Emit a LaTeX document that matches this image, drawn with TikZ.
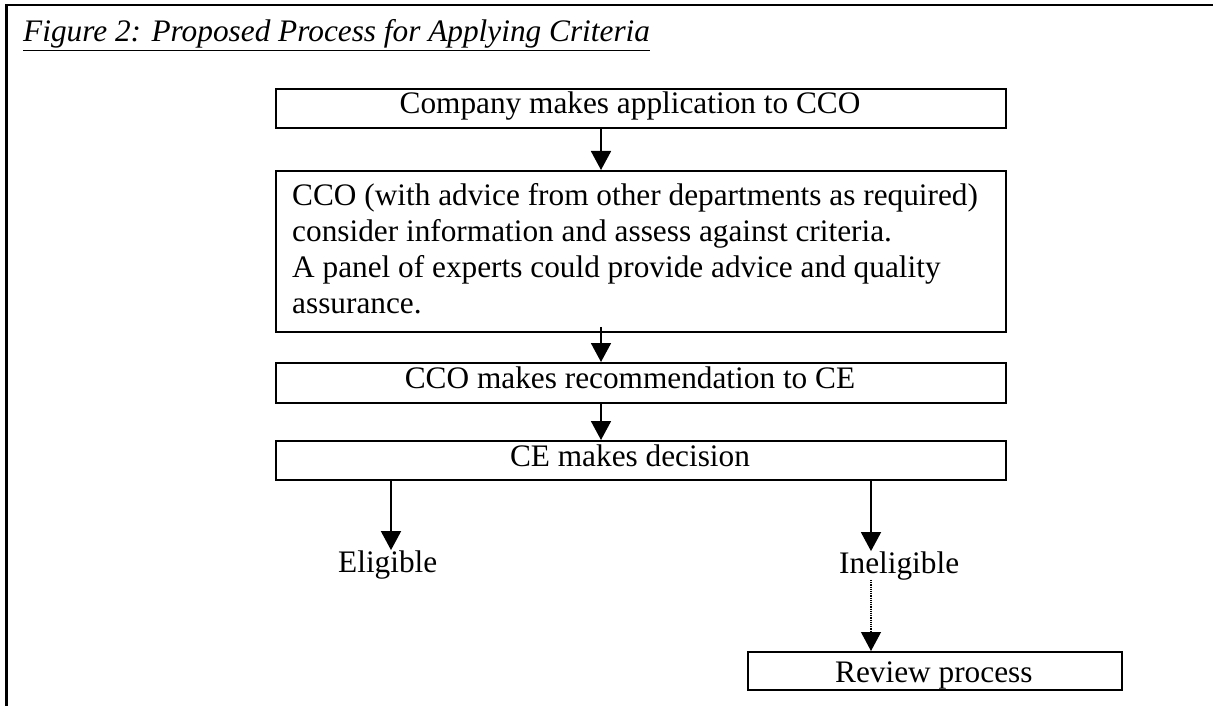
\documentclass[tikz,border=0pt]{standalone}
\usepackage{fontspec}
\setmainfont{Liberation Serif}
\usetikzlibrary{arrows.meta}
\newcommand\bdyfont{\fontsize{31.3}{36}\selectfont}
\newcommand\ttlfont{\fontsize{31.3}{36}\selectfont\itshape}
\begin{document}
\begin{tikzpicture}[x=1pt,y=-1pt,
  box/.style={draw, line width=1.8pt, inner sep=0pt, anchor=north west},
  txt/.style={font=\bdyfont, inner sep=0pt},
  arr/.style={line width=1.8pt, -{Triangle[length=19pt,width=20pt]}},
  darr/.style={line width=1.2pt, densely dotted, -{Triangle[length=19pt,width=20pt]}},
  frame/.style={line width=2.5pt}
]
\useasboundingbox (0,0) rectangle (1213,706);
\draw[frame] (6.5,706) -- (6.5,5) -- (1213,5);

\node[anchor=base west, inner sep=0pt, font=\ttlfont] (title) at (23,42)
  {\underline{Figure 2: Proposed Process for Applying Criteria}};

\node[box, minimum width=730pt, minimum height=39pt] (b1) at (275,88) {};
\node[box, minimum width=730pt, minimum height=161pt] (b2) at (275,170) {};
\node[box, minimum width=730pt, minimum height=40pt] (b3) at (275,362) {};
\node[box, minimum width=730pt, minimum height=39pt] (b4) at (275,440) {};
\node[box, minimum width=374pt, minimum height=38pt] (rv) at (747,651) {};

\node[txt, anchor=base] (t1) at (630,114) {Company makes application to CCO};
\node[txt, anchor=base west] (t2a) at (292,205) {CCO (with advice from other departments as required)};
\node[txt, anchor=base west] (t2b) at (292,241) {consider information and assess against criteria.};
\node[txt, anchor=base west] (t2c) at (292,277) {A panel of experts could provide advice and quality};
\node[txt, anchor=base west] (t2d) at (292,313) {assurance.};
\node[txt, anchor=base] (t3) at (630,388) {CCO makes recommendation to CE};
\node[txt, anchor=base] (t4) at (630,466) {CE makes decision};
\node[txt, anchor=base west] (el) at (338,572) {Eligible};
\node[txt, anchor=base west] (inel) at (839,573) {Ineligible};
\node[txt, anchor=base west] (trv) at (835,682) {Review process};

\coordinate (cx) at (601,0);
\coordinate (lx) at (391,0);
\coordinate (rx) at (871,0);

\draw[arr] (b1.south -| cx) -- (b2.north -| cx);
\draw[arr] (b2.south -| cx) ++(0,-6) -- (b3.north -| cx);
\draw[arr] (b3.south -| cx) -- (b4.north -| cx);
\draw[arr] (b4.south -| lx) -- (el.north -| lx);
\draw[arr] (b4.south -| rx) -- (inel.north -| rx);
\draw[darr] (inel.south -| rx) -- (rv.north -| rx);
\end{tikzpicture}
\end{document}
